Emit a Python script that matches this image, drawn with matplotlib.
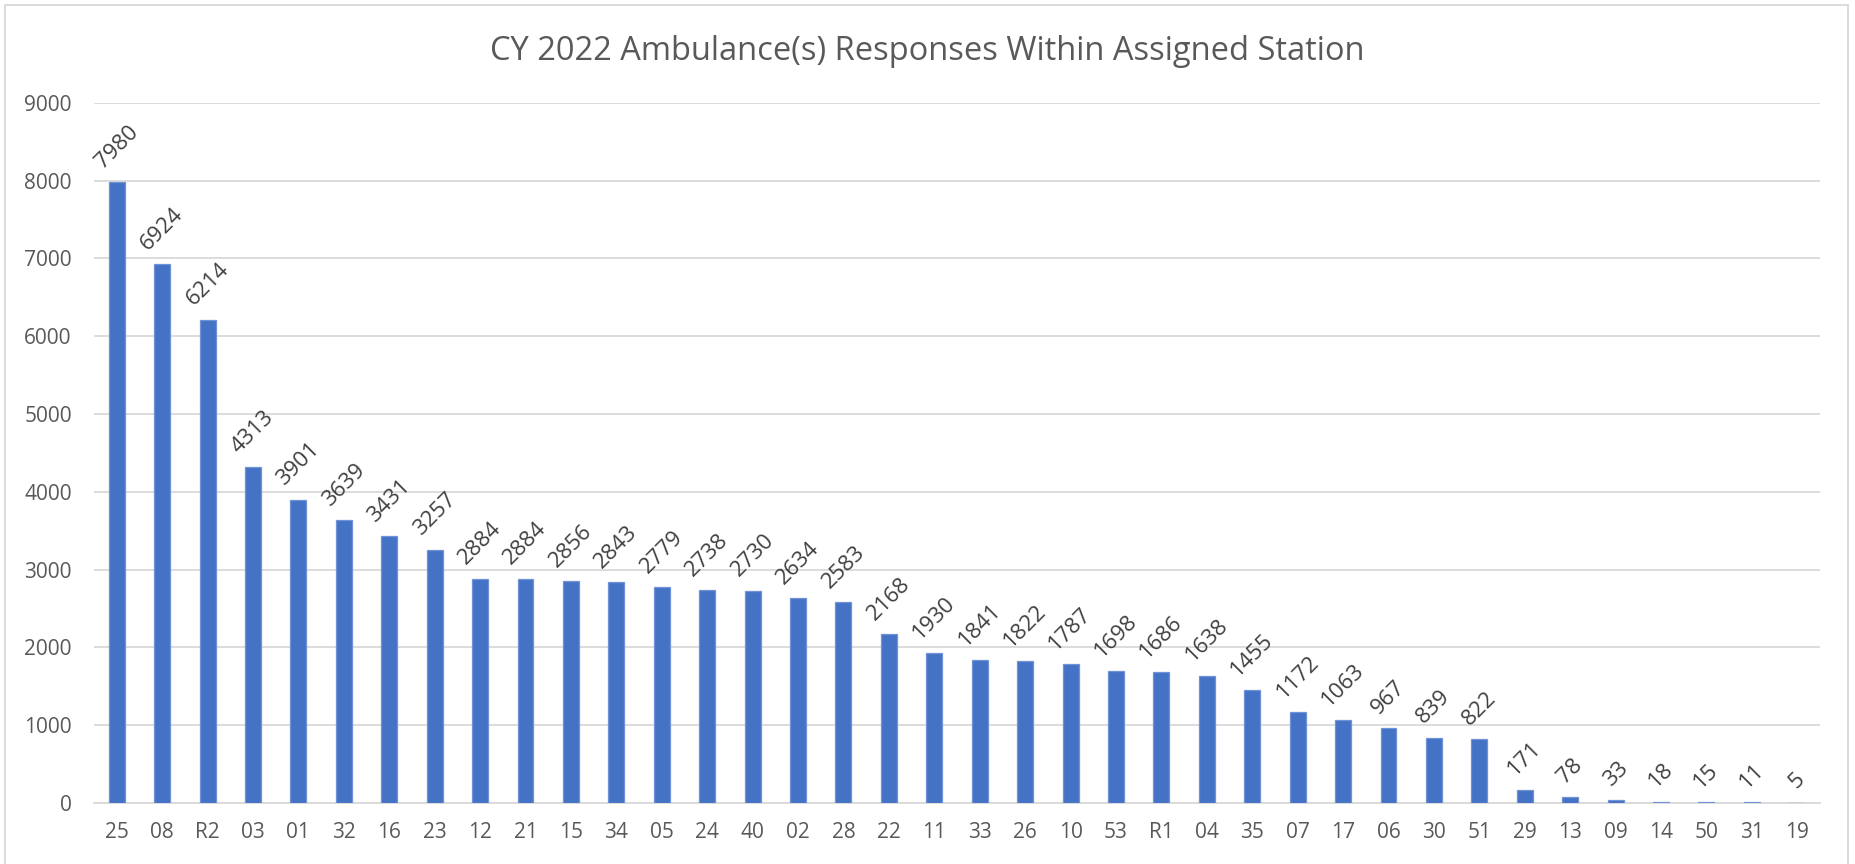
import matplotlib
matplotlib.use("Agg")
import matplotlib.pyplot as plt
from matplotlib.patches import Rectangle

stations = ["25", "08", "R2", "03", "01", "32", "16", "23", "12", "21",
            "15", "34", "05", "24", "40", "02", "28", "22", "11", "33",
            "26", "10", "53", "R1", "04", "35", "07", "17", "06", "30",
            "51", "29", "13", "09", "14", "50", "31", "19"]
responses = [7980, 6924, 6214, 4313, 3901, 3639, 3431, 3257, 2884, 2884,
             2856, 2843, 2779, 2738, 2730, 2634, 2583, 2168, 1930, 1841,
             1822, 1787, 1698, 1686, 1638, 1455, 1172, 1063, 967, 839,
             822, 171, 78, 33, 18, 15, 11, 5]
yticks = [0, 1000, 2000, 3000, 4000, 5000, 6000, 7000, 8000, 9000]
title = "CY 2022 Ambulance(s) Responses Within Assigned Station"

plt.rcParams['font.family'] = ['Open Sans', 'DejaVu Sans']
text_color = "#595959"
grid_color = "#D9D9D9"
bar_color = "#4472C4"

fig = plt.figure(figsize=(18.55, 8.64), dpi=100)
ax = fig.add_axes([94 / 1855, 0.0706, 1726 / 1855, 0.8104])

x = list(range(len(stations)))
ax.bar(x, responses, width=0.35, color=bar_color, edgecolor="#6F93D6",
       linewidth=0.9, zorder=3)

for xi, v in zip(x, responses):
    ax.annotate(str(v), (xi, v), xytext=(0, 7), textcoords="offset points",
                rotation=45, ha="center", va="bottom",
                fontsize=16, color="#404040")

ax.set_xlim(-0.5, len(stations) - 0.5)
ax.set_ylim(0, 9000)
ax.set_yticks(yticks)
ax.set_yticklabels([str(t) for t in yticks])
ax.set_xticks(x)
ax.set_xticklabels(stations)
ax.tick_params(axis="both", length=0, labelsize=15, colors=text_color)
ax.tick_params(axis="x", pad=14)
ax.tick_params(axis="y", pad=16)
ax.grid(axis="y", color=grid_color, linewidth=1.3, zorder=0)
for s in ["left", "right", "top"]:
    ax.spines[s].set_visible(False)
ax.spines["bottom"].set_color(grid_color)
ax.spines["bottom"].set_linewidth(1.3)

fig.text(0.5, 1 - 52 / 864, title, ha="center", va="center", fontsize=23.5, color=text_color)

fig.patches.append(Rectangle((5 / 1855, -0.01), 1843 / 1855, 1 - 5 / 864 + 0.01,
                             transform=fig.transFigure, fill=False,
                             edgecolor=grid_color, linewidth=1.3))

fig.savefig("out.png", dpi=100)
